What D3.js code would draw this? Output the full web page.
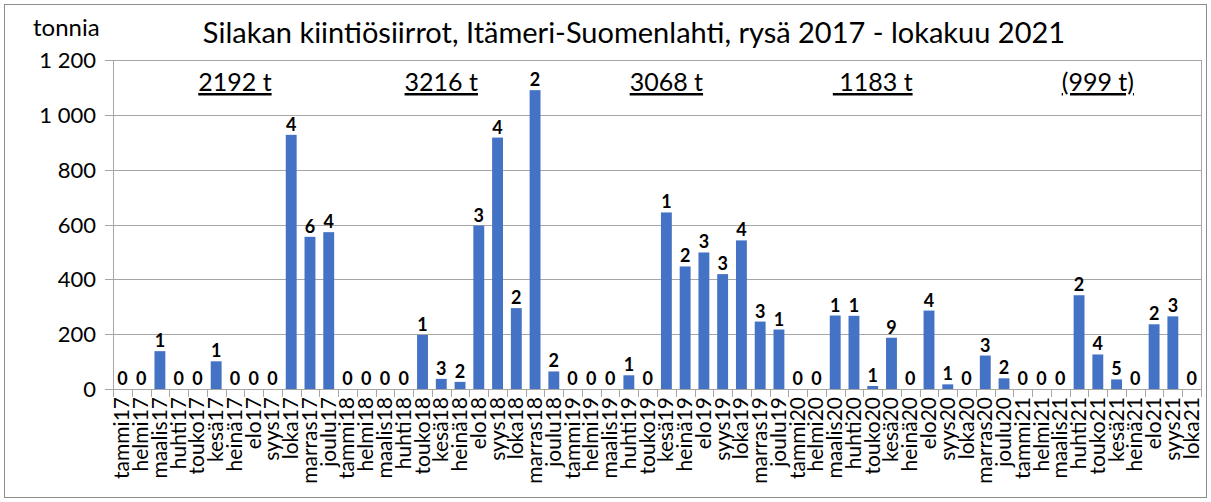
<!DOCTYPE html>
<html><head><meta charset="utf-8">
<script src="https://cdn.jsdelivr.net/npm/d3@7"></script>
<style>
html,body{margin:0;padding:0;background:#fff;}
text{font-family:Lato,"Noto Sans",sans-serif;}
</style></head>
<body><svg id="c" width="1211" height="502"></svg>
<script>
const categories = ["tammi17","helmi17","maalis17","huhti17","touko17","kesä17","heinä17","elo17","syys17","loka17","marras17","joulu17",
"tammi18","helmi18","maalis18","huhti18","touko18","kesä18","heinä18","elo18","syys18","loka18","marras18","joulu18",
"tammi19","helmi19","maalis19","huhti19","touko19","kesä19","heinä19","elo19","syys19","loka19","marras19","joulu19",
"tammi20","helmi20","maalis20","huhti20","touko20","kesä20","heinä20","elo20","syys20","loka20","marras20","joulu20",
"tammi21","helmi21","maalis21","huhti21","touko21","kesä21","heinä21","elo21","syys21","loka21"];
const tonnes = [0,0,138,0,0,101,0,0,0,927,555,572,
0,0,0,0,197,37,26,596,917,295,1090,64,
0,0,0,50,0,644,447,498,419,542,246,217,
0,0,268,267,11,187,0,286,17,0,122,39,
0,0,0,342,126,35,0,236,265,0];
const counts = [0,0,1,0,0,1,0,0,0,4,6,4,
0,0,0,0,1,3,2,3,4,2,2,2,
0,0,0,1,0,1,2,3,3,4,3,1,
0,0,1,1,1,9,0,4,1,0,3,2,
0,0,0,2,4,5,0,2,3,0];
const yTicks = [0,200,400,600,800,1000,1200];
const yearTotals = ["2192 t","3216 t","3068 t"," 1183 t","(999 t)"];
const yearAnchors = ["heinä17","kesä18","kesä19","touko20","touko21"];
const title = "Silakan kiintiösiirrot, Itämeri-Suomenlahti, rysä 2017 - lokakuu 2021";
const yUnit = "tonnia";
</script>
<script>
const svg = d3.select("#c");
const L=113, R=1201, T=60, B=389;
const x = d3.scaleBand().domain(categories).range([L,R]).paddingInner(0.42).paddingOuter(0.21);
const y = d3.scaleLinear().domain([0,1200]).range([B,T]);
const fmt = d3.formatLocale({decimal:",",thousands:" ",grouping:[3],currency:["",""]}).format(",d");

svg.append("rect").attr("x",4.5).attr("y",4.5).attr("width",1202).attr("height",493)
  .attr("fill","#fff").attr("stroke","#8c8c8c");

// gridlines
svg.append("g").selectAll("line").data(yTicks).join("line")
  .attr("x1",L-8).attr("x2",R).attr("y1",d=>Math.round(y(d))+0.5).attr("y2",d=>Math.round(y(d))+0.5)
  .attr("stroke","#a6a6a6").attr("stroke-width",1);
svg.append("line").attr("x1",R+0.5).attr("x2",R+0.5).attr("y1",T).attr("y2",B+8).attr("stroke","#a6a6a6");
svg.append("line").attr("x1",L+0.5).attr("x2",L+0.5).attr("y1",T).attr("y2",B).attr("stroke","#a6a6a6");

// y labels
svg.append("g").selectAll("text").data(yTicks).join("text")
  .attr("x",96).attr("y",d=>y(d)+8).attr("text-anchor","end")
  .attr("font-size",22).attr("fill","#000").text(d=>fmt(d));

// x ticks at category boundaries
const bounds = d3.range(categories.length+1).map(i=>L + i*(R-L)/categories.length);
svg.append("g").selectAll("line").data(bounds).join("line")
  .attr("x1",d=>Math.round(d)+0.5).attr("x2",d=>Math.round(d)+0.5).attr("y1",B).attr("y2",B+8)
  .attr("stroke","#a6a6a6");

// bars
svg.append("g").selectAll("rect").data(categories).join("rect")
  .attr("x",d=>x(d)).attr("width",x.bandwidth())
  .attr("y",(d,i)=>y(tonnes[i])).attr("height",(d,i)=>B-y(tonnes[i]))
  .attr("fill","#4472c4");

// count labels
svg.append("g").selectAll("text").data(categories).join("text")
  .each(function(d,i){
    const s=d3.select(this);
    const top=y(tonnes[i]);
    if(top-20<T){
      s.attr("x",x(d)+x.bandwidth()+2).attr("y",top+15).attr("text-anchor","start");
    } else {
      s.attr("x",x(d)+x.bandwidth()/2).attr("y",top-4).attr("text-anchor","middle");
    }
  })
  .attr("font-size",18).attr("font-weight","bold").attr("fill","#000")
  .text((d,i)=>counts[i]);

// x labels
svg.append("g").selectAll("text").data(categories).join("text")
  .attr("transform",d=>`translate(${x(d)+x.bandwidth()/2+7},${B+8}) rotate(-90)`)
  .attr("text-anchor","end").attr("font-size",21).attr("fill","#000").text(d=>d);

// year totals
svg.append("g").selectAll("text").data(yearTotals).join("text")
  .attr("x",(d,i)=>x(yearAnchors[i])+x.bandwidth()/2).attr("y",91)
  .attr("text-anchor","middle").attr("font-size",25).attr("fill","#000")
  .style("text-decoration","underline").style("white-space","pre").text(d=>d);

// title
svg.append("text").attr("x",634).attr("y",43).attr("text-anchor","middle")
  .attr("font-size",29).attr("fill","#000").text(title);
svg.append("text").attr("x",33).attr("y",36).attr("font-size",24).attr("fill","#000").text(yUnit);
</script>
</body></html>
